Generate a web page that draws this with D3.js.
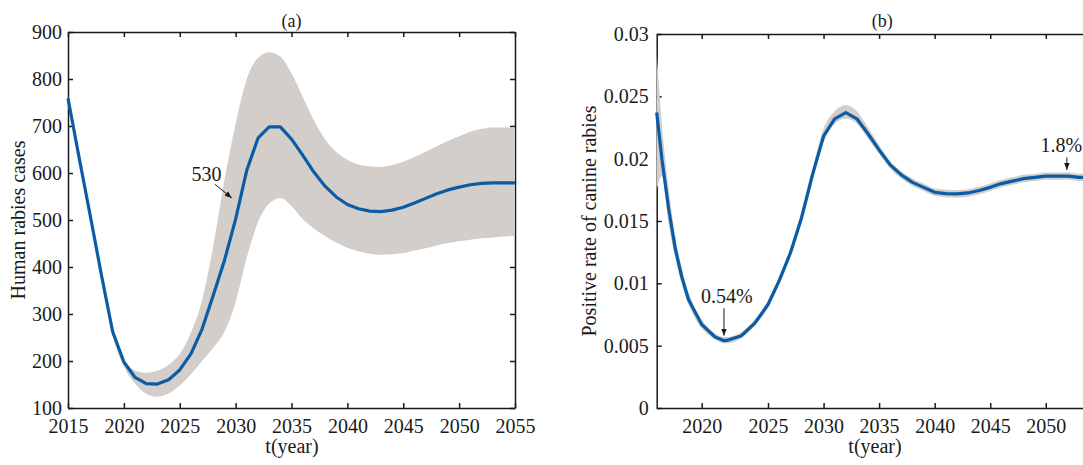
<!doctype html>
<html>
<head>
<meta charset="utf-8">
<style>
  body { margin: 0; background: #fff; }
  svg text { font-family: "Liberation Serif", "Times New Roman", serif; fill: #1a1a1a; }
  .axis path, .axis line { stroke: #1a1a1a; stroke-width: 1.5; }
  .band { fill: #d3cec9; stroke: none; }
  .mean { fill: none; stroke: #0b5ca6; stroke-width: 3.2; stroke-linejoin: round; }
  .arrow { stroke: #1a1a1a; stroke-width: 1; }
</style>
<script src="https://d3js.org/d3.v7.min.js"></script>
</head>
<body>
<svg width="1083" height="465"></svg>
<script>
// panel (a): human rabies cases
var yearsA = [2015, 2016, 2017, 2018, 2019, 2020, 2021, 2022, 2023, 2024, 2025,
              2026, 2027, 2028, 2029, 2030, 2031, 2032, 2033, 2034, 2035,
              2036, 2037, 2038, 2039, 2040, 2041, 2042, 2043, 2044, 2045,
              2046, 2047, 2048, 2049, 2050, 2051, 2052, 2053, 2054, 2055];
var casesA = [759, 632, 508, 382, 262, 198, 165, 152, 151, 160, 181,
              215, 268, 340, 414, 502, 606, 674, 698, 698, 672,
              638, 602, 572, 549, 533, 524, 519, 518, 521, 527,
              536, 546, 556, 564, 570, 575, 578, 579, 579, 579];
var upperA = [762, 637, 513, 387, 268, 205, 180, 175, 179, 192, 215,
              260, 330, 445, 585, 705, 800, 845, 857, 848, 812,
              762, 712, 672, 645, 628, 618, 614, 613, 617, 624,
              634, 645, 657, 668, 678, 688, 694, 697, 697, 696];
var lowerA = [756, 627, 503, 377, 255, 188, 152, 130, 124, 131, 148,
              172, 200, 228, 262, 325, 420, 495, 535, 547, 530,
              502, 482, 466, 452, 441, 433, 428, 426, 427, 429,
              435, 440, 446, 451, 455, 458, 461, 463, 465, 466];
var xTicksA = [2015, 2020, 2025, 2030, 2035, 2040, 2045, 2050, 2055];
var yTicksA = [100, 200, 300, 400, 500, 600, 700, 800, 900];

// panel (b): positive rate of canine rabies
var yearsB = [2016.6, 2017, 2017.5, 2018, 2018.5, 2019, 2020, 2021, 2021.7, 2022,
              2023, 2024, 2025, 2026, 2027, 2028, 2029, 2030, 2031, 2032,
              2033, 2034, 2035, 2036, 2037, 2038, 2039, 2040, 2041, 2042,
              2043, 2044, 2045, 2046, 2047, 2048, 2049, 2050, 2051, 2052,
              2053, 2054, 2055, 2055.6];
var rateB = [0.0237, 0.0199, 0.0160, 0.0128, 0.0105, 0.0087, 0.0067, 0.0057, 0.0054, 0.00545,
             0.0058, 0.0068, 0.0083, 0.0102, 0.0124, 0.0152, 0.0187, 0.0218, 0.0232, 0.0237,
             0.0232, 0.0220, 0.0207, 0.0195, 0.0187, 0.0181, 0.0177, 0.0173, 0.0172, 0.01718,
             0.01725, 0.01745, 0.0177, 0.0180, 0.0182, 0.0184, 0.0185, 0.0186, 0.0186, 0.0186,
             0.0185, 0.0185, 0.0185, 0.0185];
var upperB = [0.0285, 0.0227, 0.0177, 0.0138, 0.0112, 0.0093, 0.0071, 0.0060, 0.0057, 0.0057,
              0.0061, 0.0071, 0.0086, 0.0105, 0.0128, 0.0157, 0.0192, 0.0224, 0.0238, 0.0243,
              0.0238, 0.0225, 0.0211, 0.0198, 0.0190, 0.0184, 0.0180, 0.0176, 0.0175, 0.01748,
              0.01755, 0.01775, 0.0180, 0.0183, 0.0185, 0.0187, 0.0188, 0.0189, 0.0189, 0.0189,
              0.0188, 0.0188, 0.0188, 0.0188];
var lowerB = [0.0175, 0.0186, 0.0148, 0.0120, 0.0099, 0.0083, 0.0064, 0.0055, 0.0052, 0.0052,
              0.0056, 0.0066, 0.0080, 0.0099, 0.0121, 0.0148, 0.0181, 0.0213, 0.0228, 0.0232,
              0.0228, 0.0216, 0.0204, 0.0192, 0.0184, 0.0178, 0.0174, 0.0170, 0.0169, 0.01688,
              0.01695, 0.01715, 0.0174, 0.0177, 0.0179, 0.0181, 0.0182, 0.0183, 0.0183, 0.0183,
              0.0182, 0.0182, 0.0182, 0.0182];
var xTicksB = [2020, 2025, 2030, 2035, 2040, 2045, 2050];
var yTicksB = [0, 0.005, 0.01, 0.015, 0.02, 0.025, 0.03];
var yTickLabelsB = ["0", "0.005", "0.01", "0.015", "0.02", "0.025", "0.03"];

var svg = d3.select("svg");

svg.append("defs").append("marker")
    .attr("id", "head")
    .attr("viewBox", "0 0 10 10")
    .attr("refX", 10).attr("refY", 5)
    .attr("markerWidth", 7).attr("markerHeight", 7)
    .attr("markerUnits", "userSpaceOnUse")
    .attr("orient", "auto")
  .append("path")
    .attr("d", "M0,1 L10,5 L0,9 Z")
    .attr("fill", "#1a1a1a");

function drawPanel(p) {
    var g = svg.append("g");
    var x = p.x, y = p.y;
    var xr = x.range(), yr = y.range();
    var left = xr[0], right = xr[xr.length - 1], bottom = yr[0], top = yr[1];

    function style(sel) {
        sel.attr("font-family", null).attr("font-size", "20px");
        sel.selectAll("text").attr("fill", "#1a1a1a");
    }

    g.append("g").attr("class", "axis")
     .attr("transform", "translate(0," + bottom + ")")
     .call(d3.axisBottom(x).tickValues(p.xTicks).tickFormat(d3.format("d"))
           .tickSizeInner(-5).tickSizeOuter(0).tickPadding(11))
     .call(style);

    g.append("g").attr("class", "axis")
     .attr("transform", "translate(0," + top + ")")
     .call(d3.axisTop(x).tickValues(p.xTicks).tickFormat("")
           .tickSizeInner(-5).tickSizeOuter(0));

    g.append("g").attr("class", "axis")
     .attr("transform", "translate(" + left + ",0)")
     .call(d3.axisLeft(y).tickValues(p.yTicks)
           .tickFormat(function(d, i) { return p.yLabels[i]; })
           .tickSizeInner(-5).tickSizeOuter(0).tickPadding(p.yPad))
     .call(style);

    g.append("g").attr("class", "axis")
     .attr("transform", "translate(" + right + ",0)")
     .call(d3.axisRight(y).tickValues(p.yTicks).tickFormat("")
           .tickSizeInner(-5).tickSizeOuter(0));

    var rows = p.years.map(function(t, i) {
        return { t: t, v: p.mean[i], hi: p.upper[i], lo: p.lower[i] };
    });

    g.append("path").datum(rows).attr("class", "band")
     .attr("d", d3.area().curve(d3.curveMonotoneX)
        .x(function(d) { return x(d.t); })
        .y0(function(d) { return y(d.lo); })
        .y1(function(d) { return y(d.hi); }));

    g.append("path").datum(rows).attr("class", "mean")
     .attr("d", d3.line()
        .x(function(d) { return x(d.t); })
        .y(function(d) { return y(d.v); }));

    p.notes.forEach(function(n) {
        g.append("text")
         .attr("x", x(n.tx)).attr("y", y(n.ty))
         .attr("text-anchor", "middle").attr("font-size", "20px")
         .text(n.label);
        g.append("line").attr("class", "arrow")
         .attr("x1", x(n.ax0)).attr("y1", y(n.ay0))
         .attr("x2", x(n.ax1)).attr("y2", y(n.ay1))
         .attr("marker-end", "url(#head)");
    });

    g.append("text")
     .attr("x", (left + right) / 2).attr("y", 27)
     .attr("text-anchor", "middle").attr("font-size", "18px")
     .text(p.title);

    g.append("text")
     .attr("x", p.xLabelX).attr("y", 453)
     .attr("text-anchor", "middle").attr("font-size", "20px")
     .text("t(year)");

    g.append("text")
     .attr("transform", "translate(" + p.yLabelX + "," + (top + bottom) / 2 + ") rotate(-90)")
     .attr("text-anchor", "middle").attr("font-size", "20px")
     .text(p.yLabel);
}

drawPanel({
    title: "(a)",
    x: d3.scaleLinear().domain([2015, 2055]).range([68, 515]),
    y: d3.scaleLinear().domain([100, 900]).range([408, 32]),
    years: yearsA, mean: casesA, upper: upperA, lower: lowerA,
    xTicks: xTicksA, yTicks: yTicksA, yLabels: yTicksA.map(String), yPad: 6,
    yLabel: "Human rabies cases", yLabelX: 25, xLabelX: 292,
    notes: [{ label: "530", tx: 2027.4, ty: 583, ax0: 2028.15, ay0: 576, ax1: 2029.65, ay1: 547 }]
});

// the tick spacing of panel (b) is not uniform in the source, hence the piecewise scale
drawPanel({
    title: "(b)",
    x: d3.scaleLinear().domain([2016.6, 2020, 2025, 2055.6]).range([656.7, 701.7, 768, 1108]),
    y: d3.scaleLinear().domain([0, 0.03]).range([408, 34]),
    years: yearsB, mean: rateB, upper: upperB, lower: lowerB,
    xTicks: xTicksB, yTicks: yTicksB, yLabels: yTickLabelsB, yPad: 8,
    yLabel: "Positive rate of canine rabies", yLabelX: 596, xLabelX: 875,
    notes: [
        { label: "0.54%", tx: 2021.9, ty: 0.0084, ax0: 2021.68, ay0: 0.0080, ax1: 2021.68, ay1: 0.0058 },
        { label: "1.8%", tx: 2051.4, ty: 0.02055, ax0: 2051.9, ay0: 0.0201, ax1: 2051.9, ay1: 0.0191 }
    ]
});
</script>
</body>
</html>
